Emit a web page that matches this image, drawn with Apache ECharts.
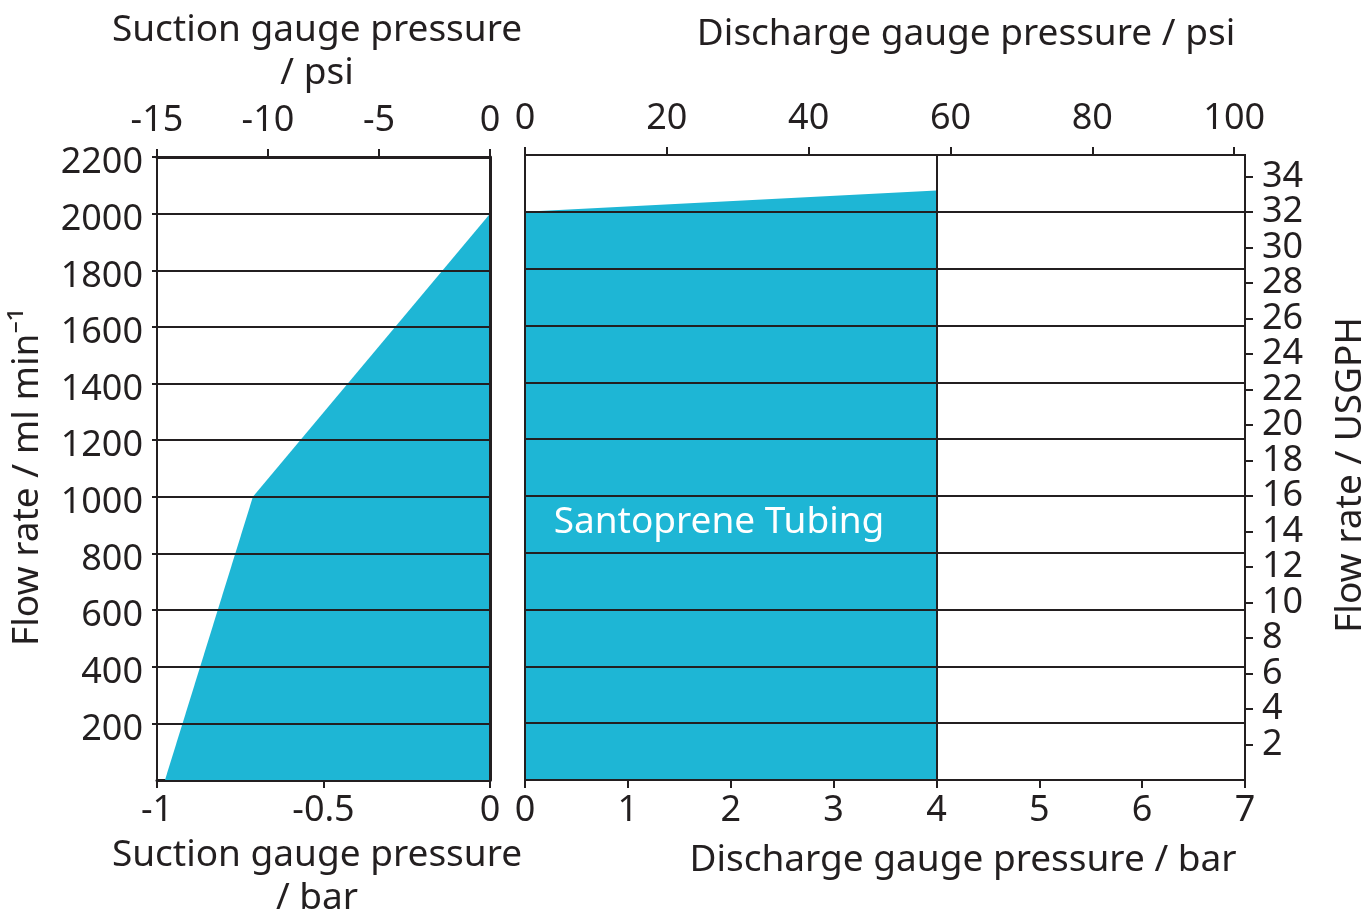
<!DOCTYPE html>
<html>
<head>
<meta charset="utf-8">
<script src="https://cdn.jsdelivr.net/npm/echarts@6/dist/echarts.min.js"></script>
<style>
html,body{margin:0;padding:0;background:#fff;}
#chart{width:1367px;height:914px;}
</style>
</head>
<body>
<div id="chart"></div>
<script>
// ---- data ----
const suctionBar = [-0.976, -0.712, 0];
const suctionFlow = [0, 1000, 2000];
const dischargeBar = [0, 4];
const dischargeFlow = [2000, 2075];
const flowTicks = [200, 400, 600, 800, 1000, 1200, 1400, 1600, 1800, 2000, 2200];
const suctionBarTicks = [-1, -0.5, 0];
const suctionPsiTicks = [-15, -10, -5, 0];
const dischargeBarTicks = [0, 1, 2, 3, 4, 5, 6, 7];
const dischargePsiTicks = [0, 20, 40, 60, 80, 100];
const usgphTicks = [2, 4, 6, 8, 10, 12, 14, 16, 18, 20, 22, 24, 26, 28, 30, 32, 34];
const mlPerUsgph = 62.5;
const flowMax = 2200;
const dischargeMaxBar = 7;
const psiPerBar = 14.5038;

const INK = '#231f20';
const FILL = '#1eb6d5';
const FONT = 'Noto Sans';
const FS = 36;   // tick labels
const TFS = 37;  // titles

// split USGPH labels into two interleaved sets so neighbouring labels never collide
const usgphA = usgphTicks.filter((v, i) => i % 2 === 0);
const usgphB = usgphTicks.filter((v, i) => i % 2 === 1);

const chart = echarts.init(document.getElementById('chart'), null, {renderer: 'canvas'});

function lbl(extra) {
  return Object.assign({color: INK, fontFamily: FONT, fontSize: FS, formatter: v => String(v),
    showMinLabel: true, showMaxLabel: true}, extra || {});
}
const tfont = TFS + 'px "' + FONT + '"';

function usgphAxis(vals) {
  return {
    type: 'value', gridIndex: 1, position: 'right', min: 0, max: flowMax / mlPerUsgph, z: 10,
    axisLine: {show: true, onZero: false, lineStyle: {color: INK, width: 2}},
    axisTick: {show: true, length: 8, lineStyle: {color: INK, width: 2}, customValues: vals},
    axisLabel: lbl({margin: 17, customValues: vals}),
    splitLine: {show: false}
  };
}

const option = {
  animation: false,
  backgroundColor: '#fff',
  grid: [
    {left: 157, top: 157, width: 333, bottom: 134},
    {left: 525, top: 155, width: 720, bottom: 134}
  ],
  xAxis: [
    { // suction bar (bottom)
      type: 'value', gridIndex: 0, position: 'bottom', min: -1, max: 0, interval: 0.5,
      axisLine: {show: true, onZero: false, lineStyle: {color: INK, width: 3}},
      axisTick: {show: true, length: 8, lineStyle: {color: INK, width: 2}, customValues: suctionBarTicks},
      axisLabel: lbl({margin: 13, customValues: suctionBarTicks}),
      splitLine: {show: false}
    },
    { // suction psi (top)
      type: 'value', gridIndex: 0, position: 'top', min: -15, max: 0, interval: 5,
      axisLine: {show: true, onZero: false, lineStyle: {color: INK, width: 3}},
      axisTick: {show: true, length: 8, lineStyle: {color: INK, width: 2}, customValues: suctionPsiTicks},
      axisLabel: lbl({margin: 18, customValues: suctionPsiTicks}),
      splitLine: {show: false}
    },
    { // discharge bar (bottom)
      type: 'value', gridIndex: 1, position: 'bottom', min: 0, max: dischargeMaxBar, interval: 1,
      axisLine: {show: true, onZero: false, lineStyle: {color: INK, width: 2}},
      axisTick: {show: true, length: 8, lineStyle: {color: INK, width: 2}, customValues: dischargeBarTicks},
      axisLabel: lbl({margin: 13, customValues: dischargeBarTicks}),
      splitLine: {show: false}
    },
    { // discharge psi (top)
      type: 'value', gridIndex: 1, position: 'top', min: 0, max: dischargeMaxBar * psiPerBar, interval: 20,
      axisLine: {show: true, onZero: false, lineStyle: {color: INK, width: 2}},
      axisTick: {show: true, length: 8, lineStyle: {color: INK, width: 2}, customValues: dischargePsiTicks},
      axisLabel: lbl({margin: 18, customValues: dischargePsiTicks}),
      splitLine: {show: false}
    }
  ],
  yAxis: [
    { // left flow ml/min
      type: 'value', gridIndex: 0, position: 'left', min: 0, max: flowMax, interval: 200, z: 10,
      axisLine: {show: true, onZero: false, lineStyle: {color: INK, width: 2}},
      axisTick: {show: true, length: 5, lineStyle: {color: INK, width: 2}, customValues: flowTicks},
      axisLabel: lbl({margin: 14, verticalAlign: 'top', lineHeight: 12, customValues: flowTicks}),
      splitLine: {show: true, lineStyle: {color: INK, width: 2}}
    },
    { // left panel right border
      type: 'value', gridIndex: 0, position: 'right', min: 0, max: flowMax, z: 10,
      axisLine: {show: true, onZero: false, lineStyle: {color: INK, width: 3}},
      axisTick: {show: false}, axisLabel: {show: false}, splitLine: {show: false}
    },
    { // right panel left border + grid lines
      type: 'value', gridIndex: 1, position: 'left', min: 0, max: flowMax, interval: 200, z: 10,
      axisLine: {show: true, onZero: false, lineStyle: {color: INK, width: 2}},
      axisTick: {show: false}, axisLabel: {show: false},
      splitLine: {show: true, lineStyle: {color: INK, width: 2}}
    },
    usgphAxis(usgphA),
    usgphAxis(usgphB)
  ],
  series: [
    {
      type: 'line', xAxisIndex: 0, yAxisIndex: 0, z: 1,
      data: suctionBar.map((x, i) => [x, suctionFlow[i]]),
      showSymbol: false, symbol: 'none',
      lineStyle: {width: 0, opacity: 0},
      areaStyle: {color: FILL, opacity: 1}
    },
    {
      type: 'line', xAxisIndex: 2, yAxisIndex: 2, z: 1,
      data: dischargeBar.map((x, i) => [x, dischargeFlow[i]]),
      showSymbol: false, symbol: 'none',
      lineStyle: {width: 0, opacity: 0},
      areaStyle: {color: FILL, opacity: 1},
      markLine: {
        silent: true, symbol: ['none', 'none'], label: {show: false}, z: 20,
        lineStyle: {color: INK, width: 2, type: 'solid'},
        data: [{xAxis: dischargeBar[dischargeBar.length - 1]}]
      }
    }
  ],
  graphic: [
    {type: 'text', z: 100, x: 317, y: 52, style: {text: 'Suction gauge pressure\n/ psi', font: tfont, fill: INK, align: 'center', verticalAlign: 'middle', lineHeight: 43}},
    {type: 'text', z: 100, x: 966, y: 34, style: {text: 'Discharge gauge pressure / psi', font: tfont, fill: INK, align: 'center', verticalAlign: 'middle'}},
    {type: 'text', z: 100, x: 317, y: 877, style: {text: 'Suction gauge pressure\n/ bar', font: tfont, fill: INK, align: 'center', verticalAlign: 'middle', lineHeight: 43}},
    {type: 'text', z: 100, x: 963, y: 860, style: {text: 'Discharge gauge pressure / bar', font: tfont, fill: INK, align: 'center', verticalAlign: 'middle'}},
    {type: 'text', z: 100, x: 27, y: 477, rotation: Math.PI / 2, style: {text: 'Flow rate / ml min\u207B\u00B9', font: tfont, fill: INK, align: 'center', verticalAlign: 'middle'}},
    {type: 'text', z: 100, x: 1350, y: 475, rotation: Math.PI / 2, style: {text: 'Flow rate / USGPH', font: tfont, fill: INK, align: 'center', verticalAlign: 'middle'}},
    {type: 'text', z: 100, x: 719, y: 522, style: {text: 'Santoprene Tubing', font: tfont, fill: '#ffffff', align: 'center', verticalAlign: 'middle'}}
  ]
};
chart.setOption(option);
</script>
</body>
</html>
